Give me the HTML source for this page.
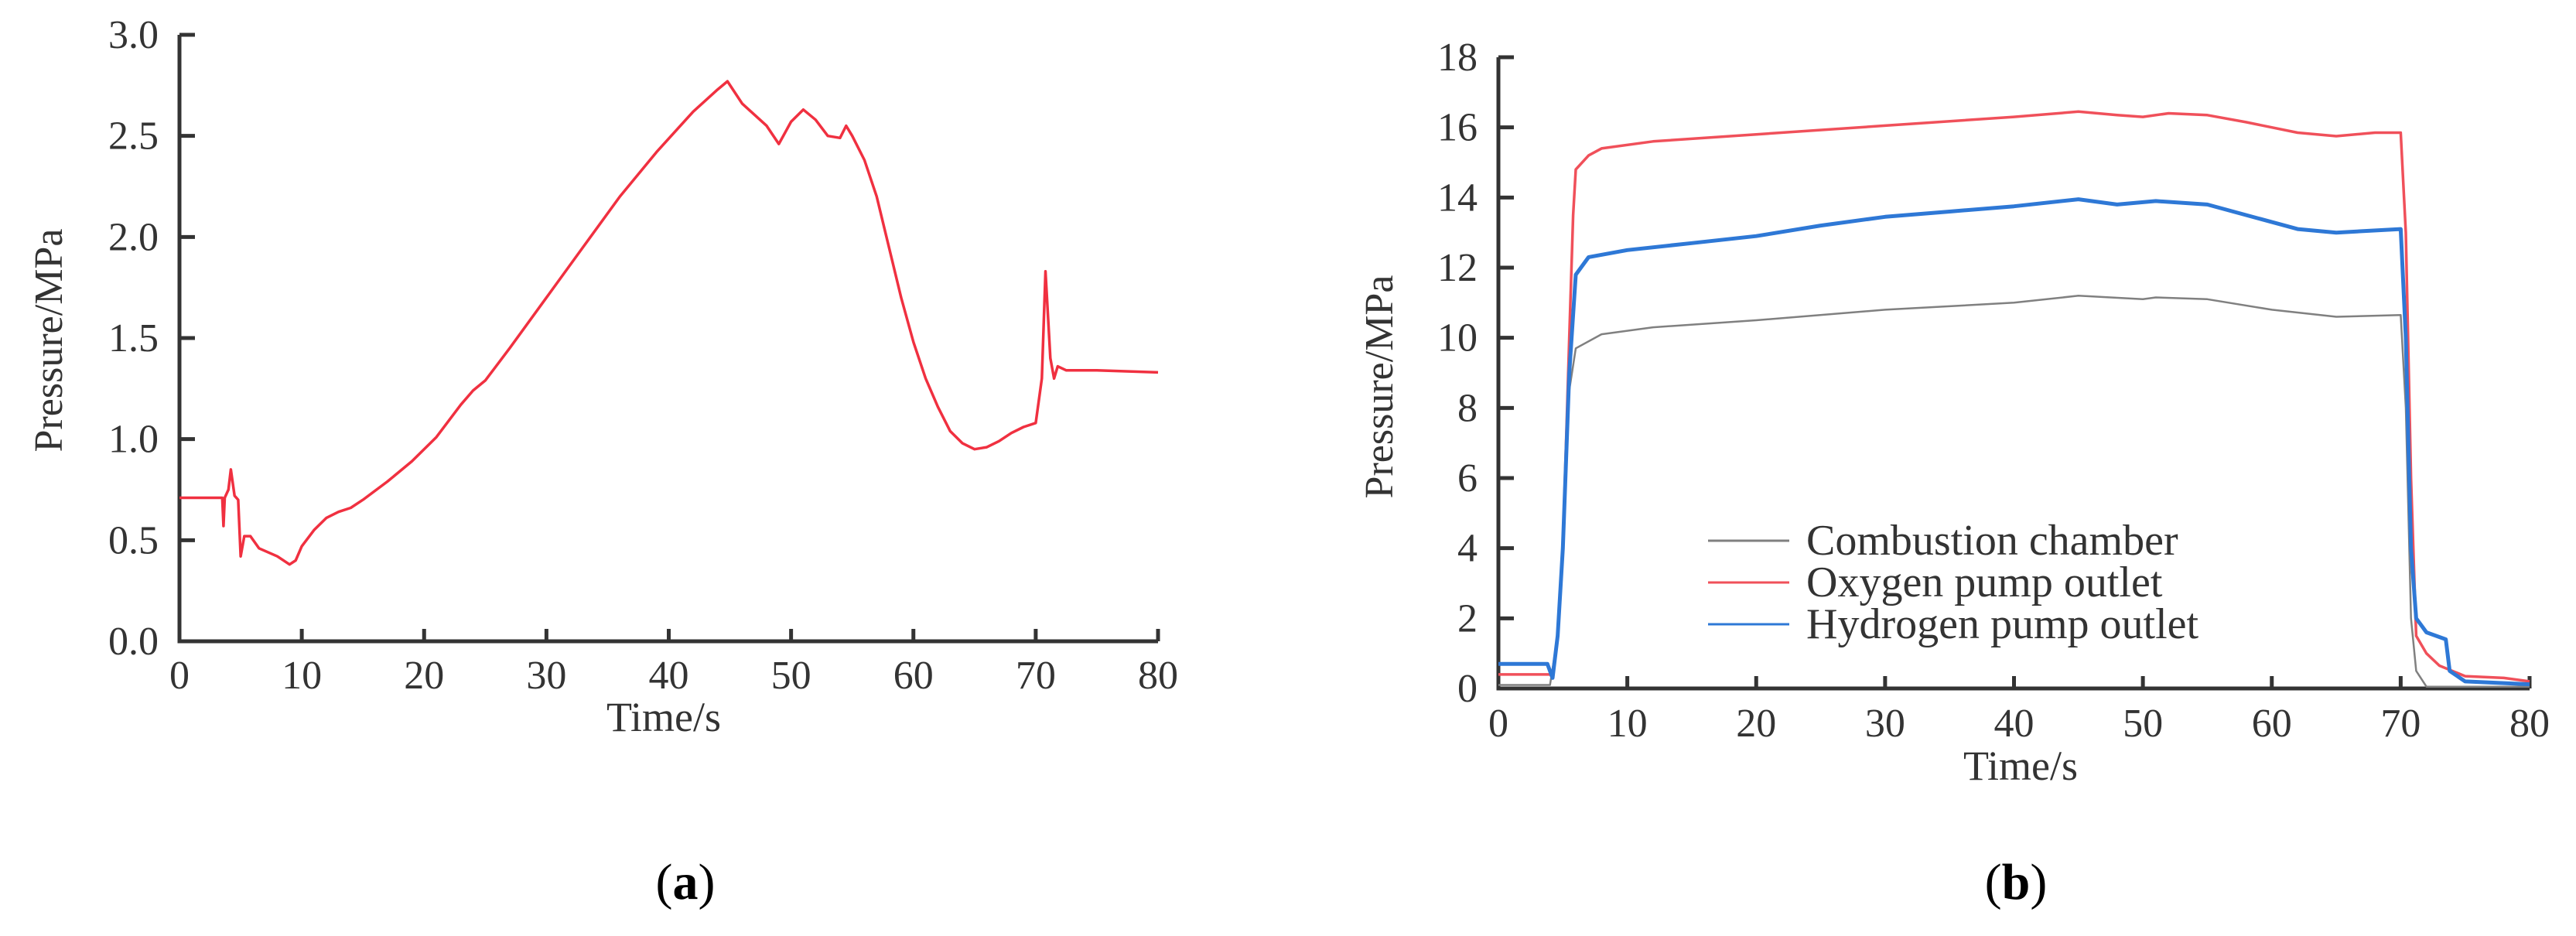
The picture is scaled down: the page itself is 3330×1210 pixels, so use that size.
<!DOCTYPE html>
<html><head><meta charset="utf-8"><style>
html,body{margin:0;padding:0;background:#fff;}
svg{display:block;font-family:"Liberation Serif",serif;}
</style></head><body>
<svg id="fig" width="3330" height="1210" viewBox="0 0 3330 1210"></svg>
<script>
// ---- Chart (a) data ----
const aTime=[0,3.5,3.6,3.7,4,4.2,4.5,4.8,5,5.3,5.8,6.5,8,9,9.5,10,11,12,13,14,15,17,19,21,23,24,25,27,30,33,36,39,42,44,44.8,46,48,49,50,51,52,53,54,54.5,55,56,57,58,59,60,61,62,63,64,65,66,67,68,69,70,70.5,70.8,71.2,71.5,71.8,72.5,75,80];
const aPressure=[0.71,0.71,0.57,0.71,0.75,0.85,0.72,0.70,0.42,0.52,0.52,0.46,0.42,0.38,0.40,0.47,0.55,0.61,0.64,0.66,0.70,0.79,0.89,1.01,1.17,1.24,1.29,1.45,1.70,1.95,2.20,2.42,2.62,2.73,2.77,2.66,2.55,2.46,2.57,2.63,2.58,2.50,2.49,2.55,2.50,2.38,2.20,1.95,1.70,1.48,1.30,1.16,1.04,0.98,0.95,0.96,0.99,1.03,1.06,1.08,1.30,1.83,1.40,1.30,1.36,1.34,1.34,1.33];
const aXTicks=[0,10,20,30,40,50,60,70,80];
const aYTicks=["0.0","0.5","1.0","1.5","2.0","2.5","3.0"];
// ---- Chart (b) data ----
const oxTime=[0,4,4.2,4.6,5,5.5,5.8,6,7,8,12,20,30,40,45,48,50,52,55,58,62,65,68,70,70.4,70.8,71.2,72,73,75,78,80];
const oxPressure=[0.4,0.4,0.3,1.5,4,10,13.5,14.8,15.2,15.4,15.6,15.8,16.05,16.3,16.45,16.35,16.3,16.4,16.35,16.15,15.85,15.75,15.85,15.85,13,6,1.5,1.0,0.65,0.35,0.3,0.2];
const hyTime=[0,3.8,4.2,4.6,5,5.5,6,7,10,15,20,25,30,35,40,45,48,51,55,58,62,65,70,70.4,70.8,71.2,72,73.5,73.8,75,80];
const hyPressure=[0.7,0.7,0.3,1.5,4,9,11.8,12.3,12.5,12.7,12.9,13.2,13.45,13.6,13.75,13.95,13.8,13.9,13.8,13.5,13.1,13.0,13.1,10,4,2.0,1.6,1.4,0.5,0.2,0.12];
const ccTime=[0,4,4.6,5,5.5,6,8,12,20,30,40,45,50,51,55,60,65,70,70.4,70.8,71.2,72,80];
const ccPressure=[0.1,0.1,1.5,4,8.5,9.7,10.1,10.3,10.5,10.8,11.0,11.2,11.1,11.15,11.1,10.8,10.6,10.65,8,2,0.5,0.05,0.05];
const bXTicks=[0,10,20,30,40,50,60,70,80];
const bYTicks=[0,2,4,6,8,10,12,14,16,18];
const legendLabels=["Combustion chamber","Oxygen pump outlet","Hydrogen pump outlet"];
const legendColors=["#808080","#f0505a","#2e78d6"];

const NS="http://www.w3.org/2000/svg";
const svg=document.getElementById('fig');
function mk(tag,attrs,parent){const e=document.createElementNS(NS,tag);for(const k in attrs)e.setAttribute(k,attrs[k]);(parent||svg).appendChild(e);return e;}

function drawAxes(g,xs,ys,xTicks,yTicks,yVals,x0,x1,y0,y1,yLabelRight,xLabelY,fs){
  mk('path',{d:`M${x0},${y1} L${x0},${y0} L${x1},${y0}`,fill:'none',stroke:'#333',"stroke-width":5},g);
  xTicks.forEach(t=>{
    const x=xs(t);
    mk('line',{x1:x,y1:y0,x2:x,y2:y0-16,stroke:'#333',"stroke-width":5},g);
    const tx=mk('text',{x:x,y:xLabelY,"text-anchor":"middle","font-size":fs,fill:'#333'},g);
    tx.textContent=t;
    
    
  });
  yTicks.forEach((lab,i)=>{
    const y=ys(yVals[i]);
    mk('line',{x1:x0,y1:y,x2:x0+20,y2:y,stroke:'#333',"stroke-width":5},g);
    const ty=mk('text',{x:yLabelRight,y:y+17,"text-anchor":"end","font-size":fs,fill:'#333'},g);
    ty.textContent=lab;
    
    
  });
}
function line(g,xs,ys,T,P,color,w,name){
  const d=T.map((t,i)=>(i?'L':'M')+xs(t).toFixed(1)+','+ys(P[i]).toFixed(1)).join(' ');
  const p=mk('path',{d:d,fill:'none',stroke:color,"stroke-width":w,"stroke-linejoin":"round"},g);
  
  
}

// Chart a
const ga=mk('g',{});


const ax0=232,ax1=1497,ay0=829,ay1=45;
const axs=t=>ax0+(ax1-ax0)*t/80, ays=v=>ay0-(ay0-ay1)*v/3;
drawAxes(ga,axs,ays,aXTicks,aYTicks,aYTicks.map(Number),ax0,ax1,ay0,ay1,205,890,52);
line(ga,axs,ays,aTime,aPressure,'#f03040',3.5,'pressure-line');
let t=mk('text',{x:858,y:945,"text-anchor":"middle","font-size":54,fill:'#333'},ga);t.textContent='Time/s';

t=mk('text',{x:0,y:0,transform:'translate(80,440) rotate(-90)',"text-anchor":"middle","font-size":52,fill:'#333'},ga);t.textContent='Pressure/MPa';

t=mk('text',{x:886,y:1162,"text-anchor":"middle","font-size":66,fill:'#000'},ga);t.innerHTML='(<tspan font-weight="bold">a</tspan>)';


// Chart b
const gb=mk('g',{});


const bx0=1937,bx1=3270,by0=890,by1=74;
const bxs=t=>bx0+(bx1-bx0)*t/80, bys=v=>by0-(by0-by1)*v/18;
drawAxes(gb,bxs,bys,bXTicks,bYTicks.map(String),bYTicks,bx0,bx1,by0,by1,1910,952,52);
line(gb,bxs,bys,ccTime,ccPressure,legendColors[0],2.5,'combustion-chamber-line');
line(gb,bxs,bys,oxTime,oxPressure,legendColors[1],3.5,'oxygen-pump-line');
line(gb,bxs,bys,hyTime,hyPressure,legendColors[2],5,'hydrogen-pump-line');
legendLabels.forEach((lab,i)=>{
  const y=699+i*54;
  const l=mk('line',{x1:2208,y1:y,x2:2313,y2:y,stroke:legendColors[i],"stroke-width":3},gb);
  
  
  const tx=mk('text',{x:2335,y:y+18,"font-size":56,fill:'#333'},gb);
  tx.textContent=lab;
  
  
});
t=mk('text',{x:2612,y:1008,"text-anchor":"middle","font-size":54,fill:'#333'},gb);t.textContent='Time/s';

t=mk('text',{x:0,y:0,transform:'translate(1800,500) rotate(-90)',"text-anchor":"middle","font-size":52,fill:'#333'},gb);t.textContent='Pressure/MPa';

t=mk('text',{x:2606,y:1162,"text-anchor":"middle","font-size":66,fill:'#000'},gb);t.innerHTML='(<tspan font-weight="bold">b</tspan>)';

</script>
</body></html>
